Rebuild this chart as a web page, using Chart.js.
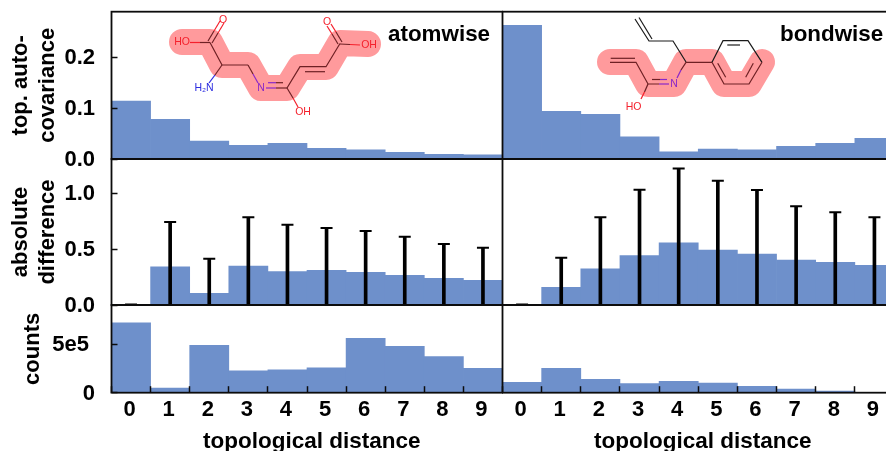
<!DOCTYPE html>
<html>
<head>
<meta charset="utf-8">
<script src="https://cdn.jsdelivr.net/npm/chart.js@4"></script>
<style>
html,body{margin:0;padding:0;background:#fff;overflow:hidden;width:886px;height:451px}
#wrap{position:relative;width:886px;height:451px;overflow:hidden;background:#fff}
canvas{position:absolute;top:0}
</style>
</head>
<body>
<div id="wrap"></div>
<script>
const categories = ['0','1','2','3','4','5','6','7','8','9'];
const atomCov  = [0.114,0.078,0.035,0.027,0.031,0.021,0.018,0.013,0.009,0.008];
const bondCov  = [0.263,0.0935,0.0876,0.0437,0.0143,0.0196,0.018,0.025,0.031,0.0406];
const atomDiff = [0.003,0.343,0.105,0.349,0.30,0.31,0.293,0.266,0.239,0.221];
const bondDiff = [0.002,0.158,0.323,0.442,0.558,0.493,0.457,0.403,0.382,0.355];
const atomErr  = [0.004,0.744,0.415,0.786,0.72,0.69,0.663,0.612,0.547,0.514];
const bondErr  = [0.004,0.424,0.786,1.033,1.222,1.114,1.03,0.884,0.83,0.786];
const atomCounts = [723000,49000,490000,227000,235000,258000,562000,479000,372000,252000];
const bondCounts = [107000,252000,138000,93000,118000,100000,66000,38000,18000,2000];
const covTicks = [0,0.1,0.2];
const diffTicks = [0,0.5,1.0];
const countTicks = [0,500000];
const xAxisTitle = 'topological distance';

const FONT = '"Liberation Sans", Arial, sans-serif';
const BLUE = '#6e90cb', INK = '#0c0c0c', HILITE = '#ff9a9c';
const DARK = '#6e2024', RED = '#f4202c', NBLUE = '#2a2ae0', PURPLE = '#8a28c8';
const PAGE_H = 451;

function line(ctx, pts, color, w){
  ctx.strokeStyle = color; ctx.lineWidth = w === undefined ? 1.2 : w;
  ctx.beginPath();
  pts.forEach((p,i)=> i ? ctx.lineTo(p[0],p[1]) : ctx.moveTo(p[0],p[1]));
  ctx.stroke();
}
function label(ctx, s, x, y, color){
  ctx.fillStyle = color; ctx.font = '10.5px ' + FONT;
  ctx.textAlign = 'center'; ctx.textBaseline = 'middle';
  ctx.fillText(s, x, y);
}
function halo(ctx, pts){
  ctx.lineJoin = 'round'; ctx.lineCap = 'round';
  line(ctx, pts, HILITE, 26);
  ctx.lineCap = 'butt'; ctx.lineJoin = 'miter';
}
function atomMolecule(ctx){
  halo(ctx, [[182,42],[210,42],[222,65],[248,65],[261,88],[287,88],[300,67],[326,67],[340,43],[368,44]]);
  line(ctx,[[190,42.5],[200,42.5]],RED); line(ctx,[[200,42.5],[210,42.5]],DARK);
  line(ctx,[[210,42.5],[222,65],[248,65]],DARK);
  line(ctx,[[208,41],[214,31]],DARK); line(ctx,[[214,31],[220,21]],RED);
  line(ctx,[[212,43],[218,33]],DARK); line(ctx,[[218,33],[224,23]],RED);
  line(ctx,[[222,65],[215,75]],DARK); line(ctx,[[215,75],[209,83]],NBLUE);
  line(ctx,[[248,65],[253,74]],DARK); line(ctx,[[253,74],[258,83]],PURPLE);
  line(ctx,[[266,88],[276,88]],PURPLE); line(ctx,[[276,88],[287,88]],DARK);
  line(ctx,[[268,82.7],[276,82.7]],PURPLE); line(ctx,[[276,82.7],[283,82.7]],DARK);
  line(ctx,[[287,88],[300,66.7],[326,66.7],[340,43.5]],DARK);
  line(ctx,[[305,71.7],[325,71.7]],DARK);
  line(ctx,[[287,88],[293,98]],DARK); line(ctx,[[293,98],[298,107]],RED);
  line(ctx,[[338,44],[332,34]],DARK); line(ctx,[[332,34],[327,26]],RED);
  line(ctx,[[342,42],[336,32]],DARK); line(ctx,[[336,32],[331,24]],RED);
  line(ctx,[[340,44],[350,44.5]],DARK); line(ctx,[[350,44.5],[360,45]],RED);
  label(ctx,'HO',182,42.5,RED); label(ctx,'O',223,20,RED);
  label(ctx,'H\u2082N',204,88,NBLUE); label(ctx,'N',261,88,PURPLE);
  label(ctx,'OH',303,112,RED); label(ctx,'O',327,22,RED); label(ctx,'OH',369,45,RED);
}
function bondMolecule(ctx){
  halo(ctx, [[610,62],[636,62],[648,84],[674,84],[686,62],[712,62],[724,84],[749,84],[762,62]]);
  const K = '#1a1a1a';
  line(ctx,[[635,19],[649,41],[673,41],[686,62]],K);
  line(ctx,[[639,17.5],[652,39]],K);
  line(ctx,[[610,62.3],[636,62.3],[648,84],[659,84]],DARK);
  line(ctx,[[610.7,58.3],[635,58.3]],DARK);
  line(ctx,[[659,84],[669,84]],PURPLE);
  line(ctx,[[652,79.5],[660,79.5]],DARK); line(ctx,[[660,79.5],[667,79.5]],PURPLE);
  line(ctx,[[677,78],[681,70]],PURPLE); line(ctx,[[681,70],[686,62.3],[712,62.3]],DARK);
  line(ctx,[[648,84],[644.5,92]],DARK); line(ctx,[[644.5,92],[641,99]],RED);
  line(ctx,[[712,62.3],[723,40.7],[748,40.7],[762,62.3]],K);
  line(ctx,[[762,62.3],[749,84],[724,84],[712,62.3]],DARK);
  line(ctx,[[727.3,45],[740,45]],K);
  line(ctx,[[717.7,63.3],[725.7,77.3]],DARK);
  line(ctx,[[753.3,63.3],[745.7,77.3]],DARK);
  label(ctx,'N',674,84.5,PURPLE); label(ctx,'HO',633.5,106.7,RED);
}

const framePlugin = {
  id:'frame',
  afterDraw(chart){
    const a = chart.chartArea, c = chart.ctx;
    c.save(); c.strokeStyle = INK; c.lineWidth = 1.8;
    c.strokeRect(a.left, a.top, a.right-a.left, a.bottom-a.top);
    c.restore();
  }
};
function notesPlugin(offsetX, draw){
  return { id:'notes', afterDraw(chart){
    const c = chart.ctx; c.save(); c.translate(-offsetX,0); draw(c); c.restore();
  }};
}
function caption(c, s, x, y, size){
  c.fillStyle = '#000'; c.font = 'bold '+size+'px '+FONT;
  c.textAlign='left'; c.textBaseline='alphabetic'; c.fillText(s,x,y);
}

function makePanel(cfg){
  const cv = document.createElement('canvas');
  cv.width = cfg.w; cv.height = PAGE_H;
  cv.style.left = cfg.left+'px'; cv.style.width = cfg.w+'px'; cv.style.height = PAGE_H+'px';
  document.getElementById('wrap').appendChild(cv);
  const datasets = [{ type:'bar', data:cfg.values, backgroundColor:BLUE, borderWidth:0,
    barPercentage:1, categoryPercentage:1, grouped:false, order:3 }];
  if (cfg.err){
    datasets.push({ type:'bar', data:cfg.err, backgroundColor:'#000', borderWidth:0,
      barThickness:3, grouped:false, order:2 });
    datasets.push({ type:'line', data:cfg.err, showLine:false, pointStyle:'line', pointRadius:6,
      pointBorderWidth:2, pointBorderColor:'#000', pointBackgroundColor:'#000', order:1 });
  }
  const yTitle = cfg.yTitle ? { display:true, text:cfg.yTitle, color:'#000',
      font:{family:FONT,size:22,weight:'bold',lineHeight:1.2},
      padding:{top:cfg.titlePad||8,bottom:0} } : {display:false};
  new Chart(cv, {
    type:'bar',
    data:{ labels:categories, datasets },
    options:{
      responsive:false, animation:false, devicePixelRatio:1,
      layout:{ autoPadding:false, padding:{ top:cfg.top, left:0, right:cfg.right||0, bottom:0 } },
      plugins:{ legend:{display:false}, tooltip:{enabled:false} },
      scales:{
        x:{ type:'category', offset:true, position:'bottom',
          grid:{ display:cfg.showX, drawOnChartArea:false, drawTicks:true, tickLength:-6.5, tickColor:INK, tickWidth:1.5, z:1 },
          border:{display:false},
          ticks:{ display:cfg.showX, color:'#000', font:{family:FONT,size:22,weight:'bold'},
            padding:11, autoSkip:false, maxRotation:0, labelOffset:-1.5 },
          afterFit(s){ s.height = PAGE_H - cfg.bottom; s.paddingLeft = 0; s.paddingRight = 0; }
        },
        y:{ type:'linear', position:'left', min:0, max:cfg.max,
          grid:{ display:!!cfg.ticks, drawOnChartArea:false, drawTicks:true, tickLength:-6, tickColor:INK, tickWidth:1.5, z:1 },
          border:{display:false},
          title:yTitle,
          ticks:{ display:!!cfg.ticks, color:'#000', font:{family:FONT,size:22,weight:'bold'},
            padding:22.5, includeBounds:false, labelOffset:1, callback:cfg.fmt },
          afterBuildTicks(s){ s.ticks = (cfg.ticks||[]).map(v=>({value:v})); },
          afterFit(s){ s.width = cfg.axisW; s.paddingTop = 0; s.paddingBottom = 0; }
        }
      }
    },
    plugins:[framePlugin].concat(cfg.notes ? [notesPlugin(cfg.left,cfg.notes)] : [])
  });
}

const LEFT = {left:0, w:503, axisW:111.5, right:0.5};
const RIGHT = {left:502, w:392, axisW:0.5, right:0};
const ROW1 = {top:11.7, bottom:159, showX:false, max:0.2896};
const ROW2 = {top:159, bottom:305, showX:false, max:1.308};
const ROW3 = {top:305, bottom:392.7, showX:true, max:906000};
const f1 = v => v.toFixed(1);
const fc = v => v === 0 ? '0' : '5e5 ';

makePanel({...LEFT,...ROW1, values:atomCov, ticks:covTicks, fmt:f1, yTitle:['top. auto-','covariance'],
  notes(c){ atomMolecule(c); caption(c,'atomwise',388,40.5,22.4); }});
makePanel({...RIGHT,...ROW1, values:bondCov,
  notes(c){ bondMolecule(c); caption(c,'bondwise',780,40.5,22.4); }});
makePanel({...LEFT,...ROW2, values:atomDiff, err:atomErr, ticks:diffTicks, fmt:f1, yTitle:['absolute','difference']});
makePanel({...RIGHT,...ROW2, values:bondDiff, err:bondErr});
makePanel({...LEFT,...ROW3, values:atomCounts, ticks:countTicks, fmt:fc, yTitle:'counts', titlePad:20,
  notes(c){ caption(c,xAxisTitle,203,448,22.5); }});
makePanel({...RIGHT,...ROW3, values:bondCounts,
  notes(c){ caption(c,xAxisTitle,594,448,22.5); }});
</script>
</body>
</html>
